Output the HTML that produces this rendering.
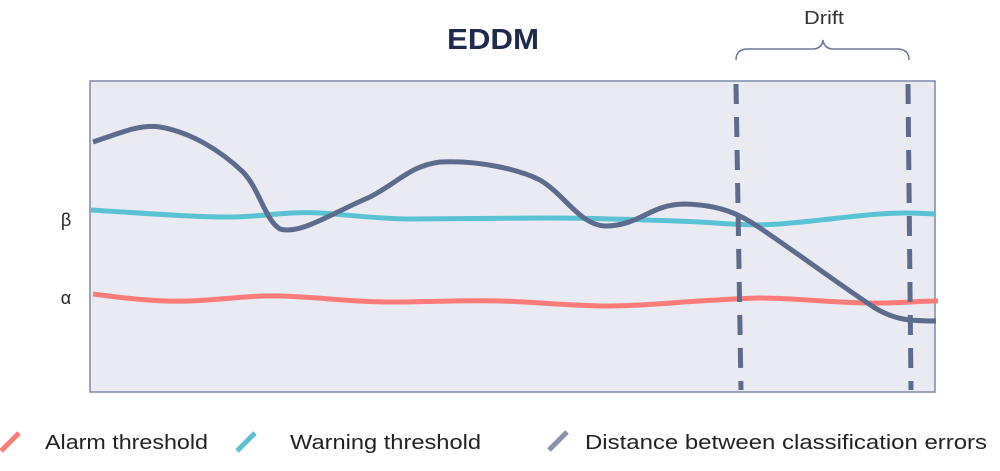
<!DOCTYPE html>
<html><head><style>body{margin:0;background:#fff;width:1000px;height:466px;overflow:hidden}</style></head>
<body>
<svg width="1000" height="466" viewBox="0 0 1000 466" xmlns="http://www.w3.org/2000/svg" font-family="'Liberation Sans', sans-serif">
<rect x="90" y="81" width="845" height="311" fill="#eaebf2" stroke="#7d88aa" stroke-width="1.5"/>
<text x="447" y="49" textLength="92" lengthAdjust="spacingAndGlyphs" font-size="29" font-weight="bold" fill="#1f2a4f">EDDM</text>
<text x="804" y="24" textLength="40" lengthAdjust="spacingAndGlyphs" font-size="18" fill="#333">Drift</text>
<path d="M736,60 Q736,49 748,49 L812,49 Q822,49 823,40 Q824,49 834,49 L897,49 Q909,49 909,60" fill="none" stroke="#6d7898" stroke-width="1.5"/>
<text x="66" y="226" text-anchor="middle" font-size="18" fill="#222">β</text>
<text x="66" y="304" text-anchor="middle" font-size="18" fill="#222">α</text>
<path d="M93,294 C130,299 160,302 190,301 C220,300 250,295 280,296 C320,297 350,302 390,302 C430,302 460,300 500,301 C540,302 570,306 610,306 C650,306 690,300 760,298 C800,298 840,304 880,303 C900,303 920,301 938,301" fill="none" stroke="#fd7b78" stroke-width="5"/>
<path d="M91,210 C140,213 190,217 230,217 C260,217 290,211 320,213 C350,215 380,219 410,219 C450,219 500,218 550,218 C600,218 650,220 700,222 C730,224 750,226 780,224 C830,220 870,213 905,213 C920,213 930,214 936,214" fill="none" stroke="#5bc2d4" stroke-width="5"/>
<path d="M93,142 C120,133 140,124 160,127 C190,132 220,150 243,172 C260,190 265,220 280,229 C300,235 330,214 370,197 C400,181 410,166 440,162 C480,160 520,170 540,180 C565,195 580,225 605,226 C640,226 650,204 685,204 C720,205 740,214 760,228 C800,255 840,285 875,308 C895,320 910,321 936,321" fill="none" stroke="#5d6b8e" stroke-width="5"/>
<line x1="736" y1="84" x2="741" y2="390" stroke="#5d6b8e" stroke-width="5" stroke-dasharray="20 13"/>
<line x1="908" y1="84" x2="911" y2="390" stroke="#5d6b8e" stroke-width="5" stroke-dasharray="20 13"/>
<line x1="1" y1="451" x2="19" y2="433" stroke="#fd7b78" stroke-width="5"/>
<text x="45" y="449" textLength="163" lengthAdjust="spacingAndGlyphs" font-size="20" fill="#222">Alarm threshold</text>
<line x1="237" y1="451" x2="255" y2="433" stroke="#5bc2d4" stroke-width="5"/>
<text x="290" y="449" textLength="191" lengthAdjust="spacingAndGlyphs" font-size="20" fill="#222">Warning threshold</text>
<line x1="549" y1="450" x2="567" y2="432" stroke="#8890aa" stroke-width="5"/>
<text x="585" y="449" textLength="402" lengthAdjust="spacingAndGlyphs" font-size="20" fill="#222">Distance between classification errors</text>
</svg>
</body></html>
